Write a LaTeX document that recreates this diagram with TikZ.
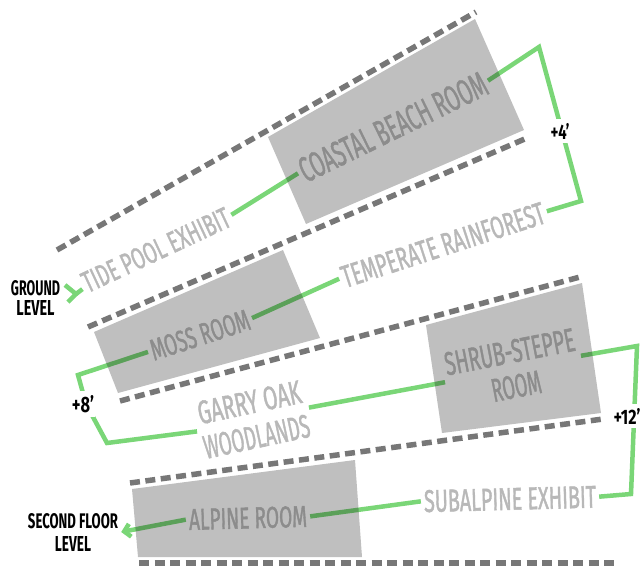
\documentclass[tikz,border=0pt]{standalone}
\usepackage{fontspec}
\setmainfont{Fira Sans}
\newfontfamily\signfont{Fira Sans}[FakeBold=1.8]
\usetikzlibrary{arrows.meta,calc}
\pgfdeclarelayer{lines}
\pgfdeclarelayer{rooms}
\pgfsetlayers{lines,rooms,main}
\definecolor{dashgray}{HTML}{777777}
\definecolor{exhibitgray}{HTML}{B8B8B8}
\definecolor{roomgray}{HTML}{8C8C8C}
\definecolor{routegreen}{HTML}{7AD677}
% text squeezed to a given width and cap height
\newcommand{\fitlabel}[3]{\resizebox{#1pt}{#2pt}{#3}}

\begin{document}
\begin{tikzpicture}[x=1pt,y=-1pt,
  floorline/.style={draw=dashgray,line width=5.5pt,dash pattern=on 10pt off 5.5pt},
  roombox/.style={fill=black,fill opacity=0.25},
  route/.style={draw=routegreen,line width=4.5pt},
  exhibit/.style={inner xsep=3pt,inner ysep=0pt,text=exhibitgray,font=\signfont},
  room/.style={inner xsep=3pt,inner ysep=0pt,text=roomgray,font=\signfont},
  level/.style={inner xsep=3pt,inner ysep=0pt,text=black,align=center},
  rise/.style={inner xsep=1pt,inner ysep=4pt,fill=white,text=black,font=\bfseries}]
\useasboundingbox (0,0) rectangle (643,576);

% ---- labels of exhibits and rooms ----
\node[exhibit,rotate=25] (tide) at (156,250) {\fitlabel{160}{21}{TIDE POOL EXHIBIT}};
\node[room,rotate=26] (coastal) at (393,127) {\fitlabel{205}{25}{COASTAL BEACH ROOM}};
\node[exhibit,rotate=18] (temperate) at (443,245) {\fitlabel{212}{22}{TEMPERATE RAINFOREST}};
\node[room,rotate=18] (moss) at (200,335) {\fitlabel{103}{21}{MOSS ROOM}};
\node[exhibit,rotate=12,align=center,font=\signfont\fontsize{10}{35}\selectfont] (garry) at (253,419.5)
  {\fitlabel{105}{23}{GARRY OAK}\\\fitlabel{108}{23}{WOODLANDS}};
\node[room,rotate=11,align=center,font=\signfont\fontsize{10}{35}\selectfont] (shrub) at (513,369)
  {\fitlabel{132}{23}{SHRUB-STEPPE}\\\fitlabel{50}{23}{ROOM}};
\node[exhibit,rotate=1.5] (subalpine) at (510,499) {\fitlabel{172}{22}{SUBALPINE EXHIBIT}};
\node[room,rotate=1.5] (alpine) at (248,518) {\fitlabel{118}{21}{ALPINE ROOM}};

% ---- floor levels ----
\node[level,font=\bfseries\fontsize{10}{20.5}\selectfont] (ground) at (35.5,298)
  {\fitlabel{49}{15}{GROUND}\\\fitlabel{38}{15}{LEVEL}};
\node[level,font=\bfseries\fontsize{10}{23}\selectfont] (second) at (73,532)
  {\fitlabel{90}{15}{SECOND FLOOR}\\\fitlabel{36}{15}{LEVEL}};

% ---- height gains ----
\node[rise] (up4) at (560,131) {\fitlabel{19}{16}{+4’}};
\node[rise] (up8) at (83,404) {\fitlabel{22}{17}{+8’}};
\node[rise] (up12) at (627,416) {\fitlabel{27}{16}{+12’}};

% ---- bends of the route ----
\coordinate (b1) at (539,47);
\coordinate (b2) at (581,201);
\coordinate (b3) at (78,375);
\coordinate (b4) at (86,404);
\coordinate (b5) at (107,443);
\coordinate (b6) at (637,346);
\coordinate (b7) at (631,494);
\coordinate (fork) at (76,294);

\begin{pgfonlayer}{lines}
  % floor edges
  \draw[floorline] (57,250) -- (476,12);
  \draw[floorline] (88,327) -- (527,138);
  \draw[floorline] (120,401) -- (580,277);
  \draw[floorline] (130,483) -- (603,419);
  \draw[floorline] (139,563) -- (617,563);
  % visitor route, starting at ground level
  \draw[route] (65,285) -- (fork) -- (68,302);
  \draw[route] (fork) -- ($(tide.west)!0.4!(tide.south west)$);
  \draw[route] (tide.east) -- (coastal.west);
  \draw[route] (coastal.east) -- (b1) -- (b2) -- (temperate.east);
  \draw[route] (temperate.west) -- (moss.east);
  \draw[route] (moss.west) -- (b3) -- (b4) -- (b5) -- (garry.west);
  \draw[route] (garry.east) -- (shrub.west);
  \draw[route] (shrub.east) -- (b6) -- (b7) -- (subalpine.east);
  \draw[route] (subalpine.west) -- (alpine.east);
  \draw[route,-{Straight Barb[length=6pt,width=13pt]}] (alpine.west) -- (second.east);
\end{pgfonlayer}

\begin{pgfonlayer}{rooms}
  \fill[roombox] (268,137) -- (475,19) -- (524,130) -- (306,224) -- cycle;
  \fill[roombox] (94,332) -- (283,250) -- (320,338) -- (118,393) -- cycle;
  \fill[roombox] (426,325) -- (582,283) -- (601,413) -- (442,433) -- cycle;
  \fill[roombox] (132,489) -- (355,460) -- (362,557) -- (138,557) -- cycle;
\end{pgfonlayer}
\end{tikzpicture}
\end{document}
